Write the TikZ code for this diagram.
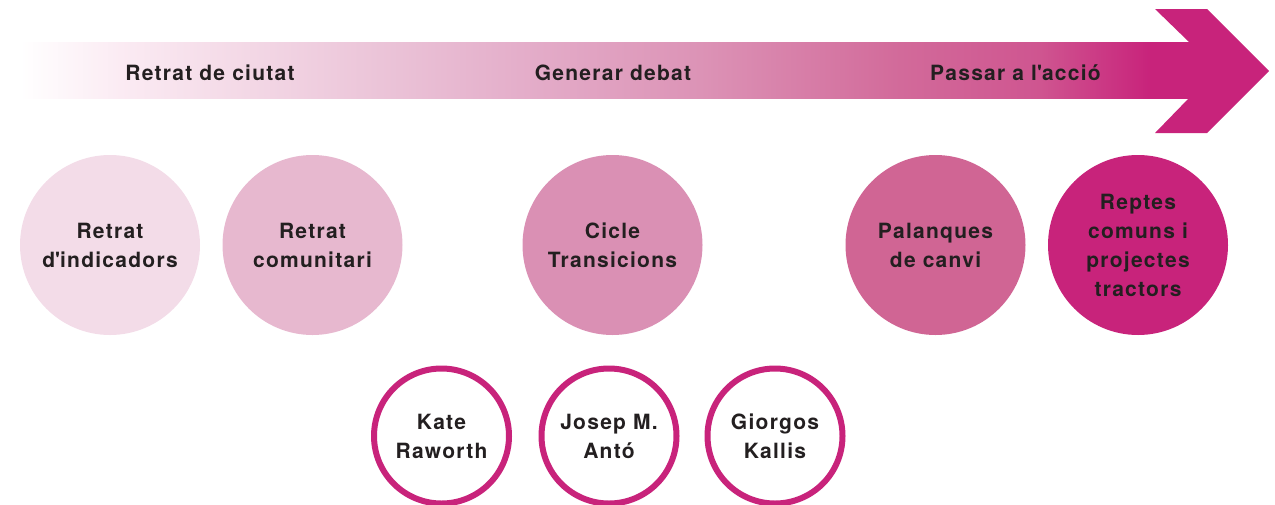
\documentclass[tikz,border=0pt]{standalone}
\usepackage{fontspec}
\setmainfont{TeX Gyre Heros}[LetterSpace=6]
\usepackage{tikz}

\definecolor{inktext}{HTML}{231F20}
\definecolor{fadeA}{HTML}{FBEBF3}
\definecolor{fadeB}{HTML}{EBC4D8}
\definecolor{fadeC}{HTML}{E4AECA}
\definecolor{fadeD}{HTML}{DC93B6}
\definecolor{fadeE}{HTML}{D26A9A}
\definecolor{fadeF}{HTML}{CF5590}
\definecolor{magentaend}{HTML}{C8237B}
\definecolor{stageone}{HTML}{F3DCE8}
\definecolor{stagetwo}{HTML}{E7B8CF}
\definecolor{stagethree}{HTML}{DA90B4}
\definecolor{stagefour}{HTML}{D06594}
\definecolor{stagefive}{HTML}{C8237B}

% band from white to magenta, path box runs 25bp..75bp
\pgfdeclarehorizontalshading{bandfade}{100bp}{color(0bp)=(white); color(25bp)=(white);
  color(25.84bp)=(white); color(30.04bp)=(fadeA); color(40.97bp)=(fadeB);
  color(46.85bp)=(fadeC); color(54.41bp)=(fadeD); color(62.82bp)=(fadeE);
  color(68.70bp)=(fadeF); color(73.32bp)=(magentaend); color(100bp)=(magentaend)}

\begin{document}
\begin{tikzpicture}[x=1pt,y=-1pt,
    txt/.style={font=\fontsize{21}{29}\selectfont\bfseries, text=inktext, align=center},
    stage/.style={txt, circle, minimum size=180pt, inner sep=0pt},
    person/.style={txt, circle, draw=magentaend, line width=6pt, minimum size=135pt, inner sep=0pt}]
    \clip (0,0) rectangle (1275,504);
    % arrow: faded shaft, then solid head
    \shade[shading=bandfade] (0,42) rectangle (1190,98);
    \fill[magentaend] (1155,9) -- (1207,9) -- (1269,71) -- (1207,133)
        -- (1155,133) -- (1189,98) -- (1189,42) -- cycle;
    % phase labels on the arrow
    \node[txt] (fase1) at (210,72.5) {Retrat de ciutat};
    \node[txt] (fase2) at (613,72.5) {Generar debat};
    \node[txt] (fase3) at (1015.5,72.5) {Passar a l\textquotesingle acció};
    % big circles, left to right
    \node[stage, fill=stageone] (indicadors) at (110,245) {Retrat\\d\textquotesingle indicadors};
    \node[stage, fill=stagetwo] (comunitari) at (312.5,245) {Retrat\\comunitari};
    \node[stage, fill=stagethree] (cicle) at (612.5,245) {Cicle\\Transicions};
    \node[stage, fill=stagefour] (palanques) at (935.5,245) {Palanques\\de canvi};
    \node[stage, fill=stagefive] (reptes) at (1138,245) {Reptes\\comuns i\\projectes\\tractors};
    % rings below
    \node[person] (raworth) at (441.5,436) {Kate\\Raworth};
    \node[person] (anto) at (609,436) {Josep M.\\Antó};
    \node[person] (kallis) at (775,436) {Giorgos\\Kallis};
\end{tikzpicture}
\end{document}
